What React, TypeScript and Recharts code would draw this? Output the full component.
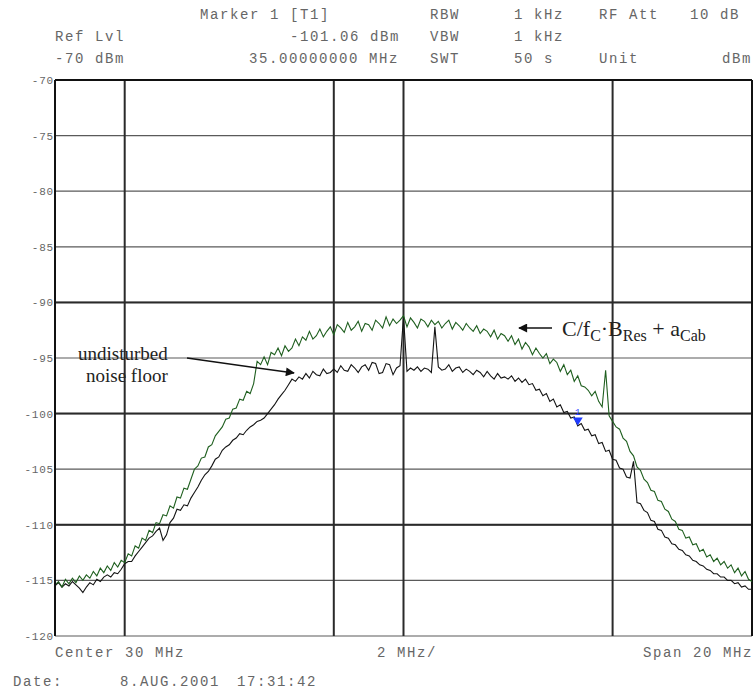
import React from 'react'
import { CartesianGrid, LineChart, Line, ReferenceDot, ReferenceLine, XAxis, YAxis } from 'recharts'

// sweep: 20 MHz .. 40 MHz, one sample every 0.1 MHz (201 points)
const sweepStart = 20
const sweepStep = 0.1

// green trace: C/fC * BRes + aCab (dBm)
const signalTrace = [
  -115.4, -115.1, -115.6, -114.9, -115.3, -114.8, -115.2, -114.6, -115.0, -114.5,
  -114.8, -114.2, -114.6, -113.9, -114.3, -113.7, -114.1, -113.4, -113.8, -113.2,
  -113.4, -112.6, -112.8, -111.9, -112.1, -111.2, -111.4, -110.5, -110.7, -109.8,
  -109.9, -109.1, -109.2, -108.3, -108.5, -107.5, -107.6, -106.7, -106.8, -105.9,
  -105.0, -104.7, -104.0, -103.9, -103.0, -102.8, -102.0, -101.6, -101.2, -100.5,
  -100.4, -99.6, -99.5, -98.7, -98.8, -98.0, -98.2, -97.3, -95.3, -95.6,
  -94.9, -95.6, -94.5, -94.7, -94.1, -94.8, -93.9, -94.4, -94.1, -93.3,
  -93.9, -93.1, -93.4, -92.6, -93.3, -93.0, -92.4, -93.1, -92.6, -92.2,
  -92.9, -92.0, -92.3, -92.7, -91.8, -92.5, -92.2, -91.7, -92.6, -91.9,
  -92.0, -92.5, -91.6, -91.9, -92.3, -91.3, -92.1, -91.5, -91.9, -91.6,
  -91.2, -92.2, -91.4, -91.8, -92.3, -91.5, -91.7, -92.2, -91.6, -92.0,
  -91.7, -92.3, -91.9, -91.6, -92.4, -91.8, -92.1, -92.5, -91.9, -92.3,
  -92.6, -92.1, -92.8, -92.4, -92.6, -93.1, -92.5, -93.3, -92.8, -93.0,
  -93.5, -93.0, -93.8, -93.3, -94.2, -93.6, -94.0, -94.7, -94.1, -94.6,
  -95.0, -94.6, -95.5, -95.1, -95.4, -96.2, -95.6, -96.5, -96.1, -97.1,
  -96.6, -97.5, -97.6, -97.9, -98.4, -98.0, -98.9, -99.4, -96.1, -100.2,
  -100.7, -101.2, -101.4, -102.2, -102.5, -103.4, -103.8, -104.8, -105.1, -105.9,
  -106.2, -106.9, -107.0, -107.8, -107.9, -108.6, -108.8, -109.5, -109.7, -110.4,
  -110.5, -111.2, -111.1, -111.8, -111.7, -112.4, -112.2, -112.9, -112.7, -113.3,
  -113.0, -113.6, -113.3, -113.9, -113.6, -114.3, -113.9, -114.6, -114.2, -114.9,
  -115.1,
]

// black trace: undisturbed noise floor (dBm)
const noiseTrace = [
  -115.5, -115.2, -115.6, -115.3, -115.5, -115.1, -115.4, -115.7, -116.1, -115.6,
  -115.2, -115.4, -114.9, -115.1, -114.7, -114.5, -114.7, -114.3, -114.4, -114.0,
  -113.5, -113.3, -113.3, -112.8, -112.4, -112.0, -111.6, -111.2, -111.0, -110.6,
  -110.3, -111.4, -110.9, -109.8, -109.4, -108.6, -108.7, -108.2, -108.3, -107.6,
  -107.1, -106.6, -106.0, -105.5, -105.2, -104.7, -104.1, -103.9, -103.3, -103.0,
  -102.8, -102.4, -102.2, -101.8, -101.9, -101.5, -101.2, -101.0, -100.7, -100.6,
  -100.4, -100.0, -99.6, -99.2, -98.7, -98.3, -97.9, -97.4, -96.9, -97.1,
  -96.7, -96.9, -96.4, -96.8, -96.2, -96.5, -96.6, -96.0, -96.4, -96.3,
  -96.0, -96.3, -95.7, -96.1, -96.2, -95.6, -95.9, -96.3, -95.8, -95.6,
  -96.1, -95.4, -95.5, -96.4, -96.3, -95.5, -95.6, -96.5, -95.9, -95.7,
  -91.3, -96.2, -95.9, -96.1, -95.8, -96.2, -95.9, -96.0, -96.3, -92.2,
  -95.8, -96.1, -96.0, -95.6, -96.2, -95.9, -95.8, -96.3, -96.0, -96.2,
  -96.5, -96.1, -96.3, -96.7, -96.2, -96.6, -96.9, -96.4, -96.8, -96.7,
  -96.9, -96.6, -97.1, -96.8, -97.2, -96.9, -97.4, -97.3, -97.9, -97.8,
  -98.4, -98.2, -98.9, -98.7, -99.4, -99.2, -99.9, -99.8, -100.4, -100.3,
  -101.1, -100.9, -101.5, -101.4, -102.0, -101.9, -102.7, -102.6, -103.4, -103.3,
  -104.1, -104.2, -104.9, -105.0, -105.7, -105.8, -104.3, -108.0, -108.1, -108.7,
  -108.9, -109.6, -109.7, -110.4, -110.5, -111.1, -111.2, -111.7, -111.8, -112.2,
  -112.3, -112.7, -112.8, -113.2, -113.3, -113.6, -113.7, -114.0, -114.1, -114.4,
  -114.4, -114.7, -114.7, -115.0, -115.0, -115.3, -115.2, -115.6, -115.5, -115.8,
  -115.8,
]

const freqTicks = [20, 22, 24, 26, 28, 30, 32, 34, 36, 38, 40]
const levelTicks = [-120, -115, -110, -105, -100, -95, -90, -85, -80, -75, -70]
const heavyLevels = [-90, -100, -110]
const heavyFreqs = [22, 28, 30, 36]

const marker = { f: 35, level: -101.06 }

const headerTexts = [
  { x: 200, y: 19, t: 'Marker 1 [T1]' },
  { x: 430, y: 19, t: 'RBW' },
  { x: 514, y: 19, t: '1 kHz' },
  { x: 599, y: 19, t: 'RF Att' },
  { x: 690, y: 19, t: '10 dB' },
  { x: 55, y: 41, t: 'Ref Lvl' },
  { x: 290, y: 41, t: '-101.06 dBm' },
  { x: 430, y: 41, t: 'VBW' },
  { x: 514, y: 41, t: '1 kHz' },
  { x: 55, y: 63, t: '-70 dBm' },
  { x: 249, y: 63, t: '35.00000000 MHz' },
  { x: 430, y: 63, t: 'SWT' },
  { x: 514, y: 63, t: '50 s' },
  { x: 599, y: 63, t: 'Unit' },
  { x: 722, y: 63, t: 'dBm' },
  { x: 55, y: 657, t: 'Center 30 MHz' },
  { x: 377, y: 657, t: '2 MHz/' },
  { x: 643, y: 657, t: 'Span 20 MHz' },
  { x: 13, y: 686, t: 'Date:' },
  { x: 120, y: 686, t: '8.AUG.2001' },
  { x: 237, y: 686, t: '17:31:42' },
]

const chartData = signalTrace.map((s, i) => ({
  f: Math.round((sweepStart + i * sweepStep) * 10) / 10,
  signal: s,
  noise: noiseTrace[i],
}))

const mono = '"Liberation Mono", "DejaVu Sans Mono", monospace'
const serif = '"Liberation Serif", "DejaVu Serif", serif'

const LevelTick = ({ x, y, payload }: any) => (
  <text x={x} y={y} dy={4} textAnchor="end" fontFamily={mono} fontSize={11} letterSpacing={0.8} fill="#666">
    {payload.value}
  </text>
)

const MarkerShape = ({ cx, cy }: any) => (
  <g>
    <path d={`M${cx - 5},${cy - 8} L${cx + 5},${cy - 8} L${cx},${cy} Z`} fill="#1f3cff" />
    <text x={cx} y={cy - 10} textAnchor="middle" fontFamily={mono} fontSize={9} fill="#1f3cff">1</text>
  </g>
)

export default function App() {
  return (
    <div style={{ position: 'absolute', left: 0, top: 0, width: 756, height: 692, background: '#fff' }}>
      <LineChart
        width={756}
        height={692}
        data={chartData}
        margin={{ top: 80, right: 4, bottom: 56, left: 0 }}
        style={{ position: 'absolute', left: 0, top: 0 }}
      >
        <CartesianGrid stroke="#5a5a5a" strokeWidth={1.2} />
        <XAxis
          dataKey="f"
          type="number"
          domain={[20, 40]}
          ticks={freqTicks}
          height={0}
          tick={false}
          tickLine={false}
          axisLine={{ stroke: '#111', strokeWidth: 3 }}
        />
        <YAxis
          type="number"
          domain={[-120, -70]}
          ticks={levelTicks}
          width={55}
          tickSize={0}
          tickMargin={1}
          tick={<LevelTick />}
          tickLine={false}
          axisLine={{ stroke: '#111', strokeWidth: 2 }}
          interval={0}
        />
        {heavyLevels.map((v) => (
          <ReferenceLine key={'h' + v} y={v} stroke="#2a2a2a" strokeWidth={2} />
        ))}
        {heavyFreqs.map((v) => (
          <ReferenceLine key={'v' + v} x={v} stroke="#2a2a2a" strokeWidth={2} />
        ))}
        <ReferenceLine y={-70} stroke="#111" strokeWidth={2} />
        <ReferenceLine x={40} stroke="#111" strokeWidth={2} />
        <Line type="linear" dataKey="noise" stroke="#141414" strokeWidth={1.1} dot={false} isAnimationActive={false} />
        <Line type="linear" dataKey="signal" stroke="#1f5f1f" strokeWidth={1.1} dot={false} isAnimationActive={false} />
        <ReferenceDot x={marker.f} y={marker.level} r={0} shape={<MarkerShape />} ifOverflow="visible" />
      </LineChart>
      <svg width={756} height={692} style={{ position: 'absolute', left: 0, top: 0, pointerEvents: 'none' }}>
        <defs>
          <marker id="ah" viewBox="0 0 10 10" refX="9" refY="5" markerWidth="7" markerHeight="6" orient="auto-start-reverse">
            <path d="M0,0 L10,5 L0,10 Z" fill="#111" />
          </marker>
        </defs>
        {headerTexts.map((h, i) => (
          <text key={i} x={h.x} y={h.y} fontFamily={mono} fontSize={14} letterSpacing={1.6} fill="#666">
            {h.t}
          </text>
        ))}
        <text x={78} y={360} fontFamily={serif} fontSize={19} fill="#222">undisturbed</text>
        <text x={86} y={382} fontFamily={serif} fontSize={19} fill="#222">noise floor</text>
        <line x1={187} y1={358} x2={294} y2={373} stroke="#111" strokeWidth={1.5} markerEnd="url(#ah)" />
        <line x1={552} y1={328} x2={519} y2={328} stroke="#111" strokeWidth={1.5} markerEnd="url(#ah)" />
        <text x={562} y={336} fontFamily={serif} fontSize={22} fill="#222">
          C/f<tspan fontSize={16} dy={5}>C</tspan>
          <tspan dy={-5}>·B</tspan>
          <tspan fontSize={16} dy={5}>Res</tspan>
          <tspan dy={-5}> + a</tspan>
          <tspan fontSize={16} dy={5}>Cab</tspan>
        </text>
      </svg>
    </div>
  )
}
